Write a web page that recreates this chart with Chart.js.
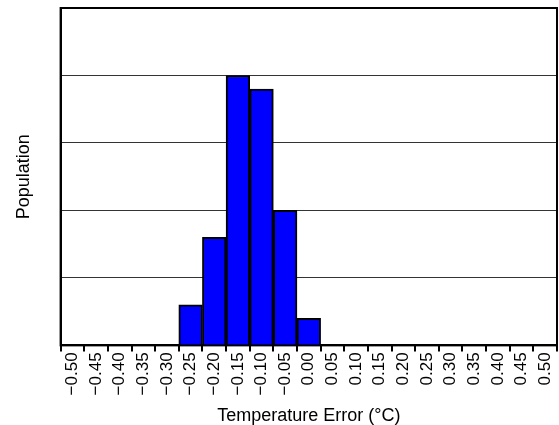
<!DOCTYPE html>
<html lang="en">
<head>
  <meta charset="UTF-8">
  <title>Temperature Error Histogram</title>
  <script src="https://cdn.jsdelivr.net/npm/chart.js"></script>
  <style>
    html, body { margin: 0; padding: 0; background: #fff; }
    #wrap { width: 559px; height: 425px; }
  </style>
</head>
<body>
<div id="wrap"><canvas id="myChart" width="559" height="425"></canvas></div>
<script>
  // bins of temperature error (°C), labels use a true minus sign
  const binLabels = ['\u22120.50', '\u22120.45', '\u22120.40', '\u22120.35', '\u22120.30', '\u22120.25',
    '\u22120.20', '\u22120.15', '\u22120.10', '\u22120.05', '0.00', '0.05', '0.10', '0.15',
    '0.20', '0.25', '0.30', '0.35', '0.40', '0.45', '0.50'];
  // population per bin (y axis 0..50)
  const population = [0, 0, 0, 0, 0, 6, 16, 40, 38, 20, 4, 0, 0, 0, 0, 0, 0, 0, 0, 0, 0];

  const FONT = "'Liberation Sans', Arial, sans-serif";
  Chart.defaults.color = '#000';
  Chart.defaults.font.family = FONT;

  // box round the plot area (top and right edges)
  const frame = {
    id: 'frame',
    afterDraw(chart) {
      const { ctx, chartArea: a } = chart;
      ctx.save();
      ctx.strokeStyle = '#000';
      ctx.lineWidth = 2;
      ctx.strokeRect(a.left, a.top, a.right - a.left, a.bottom - a.top);
      ctx.restore();
    }
  };

  new Chart(document.getElementById('myChart'), {
    type: 'bar',
    data: {
      labels: binLabels,
      datasets: [{
        data: population,
        backgroundColor: '#0000ff',
        borderColor: '#000',
        borderWidth: 2,
        barPercentage: 1,
        categoryPercentage: 1
      }]
    },
    options: {
      responsive: false,
      animation: false,
      layout: { padding: { left: 13, right: 2, top: 8, bottom: 0 } },
      plugins: { legend: { display: false }, tooltip: { enabled: false } },
      scales: {
        x: {
          offset: true,
          grid: { offset: true, drawOnChartArea: false, drawTicks: true, tickLength: 6, color: '#000', lineWidth: 2 },
          border: { display: true, color: '#000', width: 2 },
          ticks: { minRotation: 90, maxRotation: 90, autoSkip: false, padding: 1, font: { size: 17 } },
          title: { display: true, text: 'Temperature Error (°C)', font: { size: 18 }, padding: { top: 9, bottom: -2 } },
          afterFit(scale) { scale.paddingLeft = 0; scale.paddingRight = 0; }
        },
        y: {
          min: 0,
          max: 50,
          ticks: { stepSize: 10, display: false },
          grid: { drawTicks: false, color: '#333', lineWidth: 1 },
          border: { display: true, color: '#000', width: 2 },
          title: { display: true, text: 'Population', font: { size: 18 }, padding: { top: 0, bottom: 26 } }
        }
      }
    },
    plugins: [frame]
  });
</script>
</body>
</html>
